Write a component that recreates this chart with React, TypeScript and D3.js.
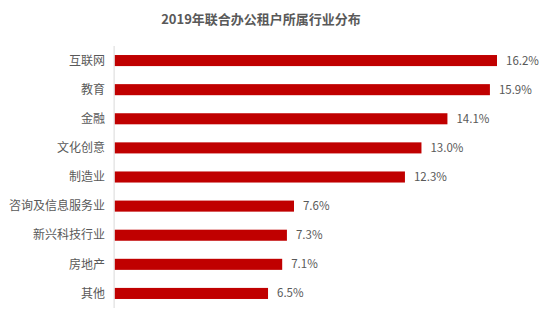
import React from "react";
import * as d3 from "d3";

const categories = ["互联网", "教育", "金融", "文化创意", "制造业", "咨询及信息服务业", "新兴科技行业", "房地产", "其他"];
const values = [16.2, 15.9, 14.1, 13.0, 12.3, 7.6, 7.3, 7.1, 6.5];
const title = "2019年联合办公租户所属行业分布";

export default function App() {
  const W = 554, H = 323;
  const x0 = 114.6;
  const x = d3.scaleLinear().domain([0, 16.2]).range([x0, 497]);
  const y = d3.scaleBand<string>().domain(categories).range([46, 308]).paddingInner(0.62).paddingOuter(0.31);
  const font = "'Noto Sans CJK SC', 'Noto Sans', sans-serif";
  return (
    <svg width={W} height={H} style={{ position: "absolute", left: 0, top: 0, background: "#fff" }}>
      <text x={261} y={24} textAnchor="middle" fontFamily={font} fontSize={13} fontWeight="bold" fill="#595959">{title}</text>
      {categories.map((c, i) => (
        <g key={c}>
          <rect x={x(0)} y={y(c)!} width={x(values[i]) - x(0)} height={y.bandwidth()} fill="#C00000" />
          <text x={105} y={y(c)! + y.bandwidth() / 2} dy="0.35em" textAnchor="end" fontFamily={font} fontSize={12} fill="#595959">{c}</text>
          <text x={x(values[i]) + 9} y={y(c)! + y.bandwidth() / 2} dy="0.35em" fontFamily={font} fontSize={11.5} fill="#595959">{values[i].toFixed(1)}%</text>
        </g>
      ))}
      <line x1={x0 - 0.5} x2={x0 - 0.5} y1={46} y2={308} stroke="#d9d9d9" strokeWidth={1} />
    </svg>
  );
}
